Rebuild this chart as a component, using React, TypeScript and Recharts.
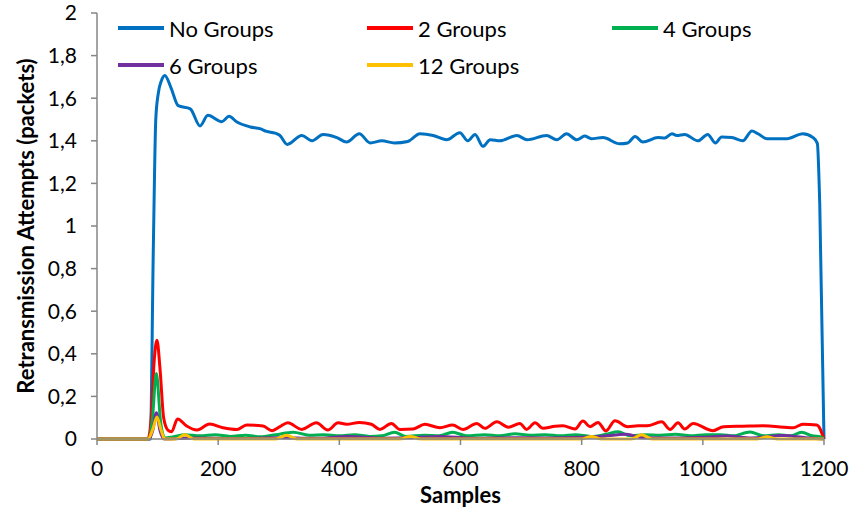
import React from 'react';
import { LineChart, Line, XAxis, YAxis, Legend } from 'recharts';

const xTicks = [0, 200, 400, 600, 800, 1000, 1200];
const yTicks = [0, 0.2, 0.4, 0.6, 0.8, 1, 1.2, 1.4, 1.6, 1.8, 2];

const seriesNames = ['No Groups', '2 Groups', '4 Groups', '6 Groups', '12 Groups'];
const seriesColors = ['#0070C0', '#FF0000', '#00B050', '#7030A0', '#FFC000'];

// [sample, value]
const noGroups: [number, number][] = [
  [0, 0], [88, 0], [93, 0.9], [97, 1.5], [101, 1.62], [106, 1.68], [112, 1.707], [122, 1.65], [134, 1.565],
  [154, 1.55], [170, 1.47], [183, 1.52], [206, 1.49], [218, 1.515], [231, 1.488], [253, 1.465], [269, 1.457],
  [280, 1.444], [294, 1.436], [302, 1.425], [314, 1.383], [338, 1.425], [355, 1.4], [373, 1.429], [396, 1.415],
  [412, 1.394], [433, 1.433], [451, 1.39], [470, 1.4], [491, 1.39], [513, 1.397], [533, 1.433], [555, 1.425],
  [577, 1.405], [599, 1.438], [612, 1.4], [624, 1.43], [637, 1.374], [649, 1.405], [665, 1.4], [693, 1.425],
  [710, 1.405], [742, 1.425], [759, 1.405], [775, 1.433], [792, 1.405], [805, 1.422], [816, 1.41], [835, 1.415],
  [863, 1.386], [876, 1.39], [888, 1.42], [901, 1.394], [926, 1.415], [937, 1.413], [949, 1.433], [957, 1.425],
  [970, 1.43], [992, 1.4], [1008, 1.43], [1021, 1.39], [1031, 1.418], [1048, 1.415], [1066, 1.4], [1081, 1.446],
  [1091, 1.433], [1106, 1.41], [1139, 1.41], [1165, 1.433], [1182, 1.415], [1189, 1.388], [1193, 1.1], [1200, 0],
];

const twoGroups: [number, number][] = [
  [0, 0], [84, 0], [90, 0.12], [94, 0.35], [99, 0.464], [104, 0.33], [110, 0.1], [117, 0.042], [123, 0.034],
  [133, 0.094], [148, 0.061], [165, 0.042], [186, 0.07], [208, 0.053], [231, 0.045], [247, 0.066], [274, 0.061],
  [289, 0.039], [302, 0.058], [315, 0.076], [338, 0.045], [362, 0.076], [381, 0.042], [398, 0.076], [412, 0.069],
  [433, 0.078], [453, 0.069], [467, 0.045], [486, 0.073], [500, 0.045], [522, 0.047], [541, 0.069], [566, 0.053],
  [587, 0.066], [604, 0.045], [627, 0.073], [640, 0.05], [660, 0.081], [679, 0.055], [698, 0.073], [709, 0.045],
  [723, 0.076], [736, 0.05], [756, 0.06], [769, 0.062], [789, 0.047], [802, 0.084], [814, 0.058], [827, 0.078],
  [840, 0.038], [855, 0.086], [876, 0.058], [893, 0.062], [908, 0.062], [932, 0.081], [946, 0.045], [959, 0.076],
  [970, 0.047], [984, 0.073], [1017, 0.039], [1034, 0.058], [1066, 0.06], [1099, 0.062], [1114, 0.06],
  [1149, 0.053], [1165, 0.069], [1188, 0.066], [1200, 0],
];

const fourGroups: [number, number][] = [
  [0, 0], [85, 0], [91, 0.08], [98, 0.308], [105, 0.08], [112, 0.005], [125, 0.01], [145, 0.02], [170, 0.015],
  [195, 0.02], [220, 0.012], [245, 0.018], [270, 0.01], [295, 0.02], [324, 0.032], [350, 0.018], [375, 0.02],
  [400, 0.015], [425, 0.02], [450, 0.012], [470, 0.015], [491, 0.032], [510, 0.012], [540, 0.018], [565, 0.015],
  [587, 0.032], [610, 0.015], [640, 0.02], [665, 0.015], [690, 0.025], [715, 0.018], [740, 0.02], [765, 0.015],
  [790, 0.02], [815, 0.012], [840, 0.022], [860, 0.034], [880, 0.015], [905, 0.02], [930, 0.018], [955, 0.022],
  [980, 0.015], [1005, 0.02], [1030, 0.02], [1050, 0.015], [1078, 0.033], [1100, 0.015], [1125, 0.02],
  [1145, 0.015], [1163, 0.032], [1180, 0.015], [1195, 0.01], [1200, 0],
];

const sixGroups: [number, number][] = [
  [0, 0], [85, 0], [92, 0.04], [98, 0.123], [104, 0.04], [111, 0], [160, 0.005], [230, 0.002], [300, 0.006],
  [360, 0.003], [414, 0.012], [470, 0.004], [520, 0.006], [565, 0.012], [620, 0.004], [680, 0.006], [740, 0.005],
  [800, 0.008], [830, 0.012], [874, 0.022], [900, 0.006], [960, 0.005], [1000, 0.008], [1040, 0.014],
  [1080, 0.005], [1132, 0.016], [1170, 0.006], [1200, 0],
];

const twelveGroups: [number, number][] = [
  [0, 0], [84, 0], [92, 0.045], [99, 0.103], [106, 0.04], [112, 0], [130, 0], [145, 0.02], [160, 0], [295, 0],
  [313, 0.018], [330, 0], [500, 0], [517, 0.012], [535, 0], [800, 0], [816, 0.012], [832, 0], [882, 0],
  [899, 0.02], [916, 0], [1090, 0], [1106, 0.01], [1122, 0], [1200, 0],
];

const seriesData = [noGroups, twoGroups, fourGroups, sixGroups, twelveGroups];

const FONT = 'Lato, "Liberation Sans", sans-serif';

const fmtY = (v: number) => (Number.isInteger(v) ? String(v) : String(v).replace('.', ','));

const legendCols = [118, 367, 612];
const LegendContent = () => (
  <div style={{ position: 'relative', width: 852, height: 90, fontFamily: FONT, fontSize: 22, color: '#000' }}>
    {seriesNames.map((name, i) => {
      const col = i % 3;
      const row = Math.floor(i / 3);
      return (
        <div
          key={name}
          style={{
            position: 'absolute',
            left: legendCols[col],
            top: 14 + row * 37,
            height: 28,
            display: 'flex',
            alignItems: 'center',
            whiteSpace: 'nowrap',
          }}
        >
          <span style={{ display: 'inline-block', width: 46, height: 3.5, background: seriesColors[i], marginRight: 5 }} />
          <span>{name}</span>
        </div>
      );
    })}
  </div>
);

export default function App() {
  return (
    <div style={{ position: 'absolute', left: 0, top: 0, width: 852, height: 513, background: '#fff' }}>
      <LineChart width={852} height={513} margin={{ top: 13, right: 28, bottom: 0, left: 0 }}>
        <XAxis
          xAxisId="top"
          orientation="top"
          type="number"
          dataKey="x"
          domain={[0, 1200]}
          height={0}
          tick={false}
          tickLine={false}
          axisLine={{ stroke: '#000', strokeWidth: 1.5 }}
        />
        <YAxis
          yAxisId="right"
          orientation="right"
          type="number"
          domain={[0, 2]}
          width={0}
          tick={false}
          tickLine={false}
          axisLine={{ stroke: '#000', strokeWidth: 1.5 }}
        />
        <XAxis
          type="number"
          dataKey="x"
          domain={[0, 1200]}
          ticks={xTicks}
          height={74}
          tickSize={6}
          tickMargin={16}
          interval={0}
          axisLine={{ stroke: '#868686', strokeWidth: 1.5 }}
          tickLine={{ stroke: '#868686', strokeWidth: 1.5 }}
          tick={{ fill: '#000', fontSize: 21, fontFamily: FONT }}
          label={{ value: 'Samples', position: 'insideBottom', offset: 10, fill: '#000', fontSize: 22, fontWeight: 700, fontFamily: FONT }}
        />
        <YAxis
          type="number"
          domain={[0, 2]}
          ticks={yTicks}
          width={97}
          tickSize={6}
          tickMargin={14}
          interval={0}
          tickFormatter={fmtY}
          axisLine={{ stroke: '#868686', strokeWidth: 1.5 }}
          tickLine={{ stroke: '#868686', strokeWidth: 1.5 }}
          tick={{ fill: '#000', fontSize: 21, fontFamily: FONT }}
          label={{
            value: 'Retransmission Attempts (packets)',
            angle: -90,
            position: 'insideLeft',
            offset: 26,
            style: { textAnchor: 'middle' },
            fill: '#000',
            fontSize: 22,
            fontWeight: 700,
            fontFamily: FONT,
          }}
        />
        <Legend
          layout="vertical"
          align="center"
          verticalAlign="middle"
          content={LegendContent}
          wrapperStyle={{ position: 'absolute', left: 0, top: 0, width: 852, height: 90 }}
        />
        {seriesData.map((pts, i) => (
          <Line
            key={seriesNames[i]}
            name={seriesNames[i]}
            data={pts.map(([x, y]) => ({ x, y }))}
            dataKey="y"
            type="monotone"
            stroke={seriesColors[i]}
            strokeWidth={3}
            dot={false}
            activeDot={false}
            isAnimationActive={false}
          />
        ))}
      </LineChart>
    </div>
  );
}
